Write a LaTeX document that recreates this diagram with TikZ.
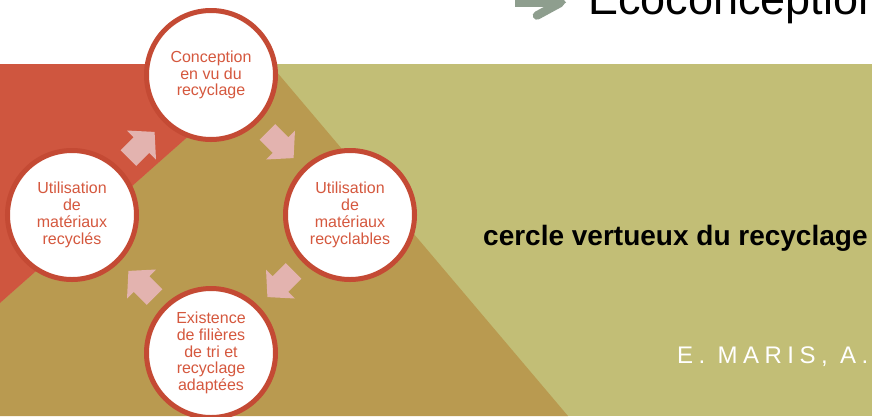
\documentclass[tikz,border=0pt]{standalone}
\usepackage{fontspec}
\setmainfont{Liberation Sans}
\usetikzlibrary{calc}
\definecolor{bgred}{HTML}{CF563F}
\definecolor{bgtan}{HTML}{B99A50}
\definecolor{bggreen}{HTML}{C2BE76}
\definecolor{ringred}{HTML}{C44A34}
\definecolor{txtred}{HTML}{D5583E}
\definecolor{arrowpink}{HTML}{E3B3AF}
\definecolor{titlearrow}{HTML}{8E9E8E}
\tikzset{
  circ/.style={circle, draw=ringred, line width=5pt, fill=white, minimum size=129pt,
    inner sep=0pt, align=center, text=txtred, font=\fontsize{16}{16.8}\selectfont},
  blockarrow/.style={fill=arrowpink, draw=none},
}
\newcommand{\myblockarrow}[2]{%
  \path[blockarrow, shift={#1}, rotate=#2]
    (-18.5,-11) -- (0,-11) -- (0,-20.5) -- (18.5,0) -- (0,20.5) -- (0,11) -- (-18.5,11) -- cycle;}
\begin{document}
\begin{tikzpicture}[x=1pt,y=-1pt]
\useasboundingbox (0,0) rectangle (872,416);
\fill[white] (0,0) rectangle (872,416);
% background bands
\fill[bggreen] (0,64) rectangle (872,416);
\fill[bgtan] (270,64) -- (568,416) -- (0,416) -- (0,303) -- cycle;
\fill[bgred] (0,64) -- (270,64) -- (0,303) -- cycle;
% title arrow and title
\fill[titlearrow] (515,-20) rectangle (557,6.5);
\fill[titlearrow] (548,-20) -- (566,2.5) -- (557,9) -- cycle;
\draw[titlearrow, line width=8.5pt, line cap=round] (537,15.5) -- (560,3);
\node[anchor=base west, inner sep=0pt, font=\fontsize{45}{45}\selectfont] (title) at (588,14) {Ecoconception};
% circles
\node[circ] (c1) at (211,75) {Conception\\en vu du\\recyclage};
\node[circ] (c2) at (350,215) {Utilisation\\de\\matériaux\\recyclables};
\node[circ] (c3) at (211,353) {Existence\\de filières\\de tri et\\recyclage\\adaptées};
\node[circ] (c4) at (72,215) {Utilisation\\de\\matériaux\\recyclés};
% block arrows between circles
\coordinate (a41) at ($(c4)!0.5!(c1)$);
\coordinate (a12) at ($(c1)!0.5!(c2)$);
\coordinate (a23) at ($(c2)!0.5!(c3)$);
\coordinate (a34) at ($(c3)!0.5!(c4)$);
\myblockarrow{(a41)}{45}
\myblockarrow{(a12)}{-45}
\myblockarrow{(a23)}{-135}
\myblockarrow{(a34)}{135}
% texts
\node[anchor=base west, inner sep=0pt, font=\fontsize{28}{28}\selectfont\bfseries] (sub) at (483,245) {cercle vertueux du recyclage};
\node[anchor=base west, inner sep=0pt, text=white, font=\fontsize{24}{24}\selectfont\addfontfeature{LetterSpace=23}] (auth) at (677,363) {E. MARIS, A.};
\end{tikzpicture}
\end{document}
